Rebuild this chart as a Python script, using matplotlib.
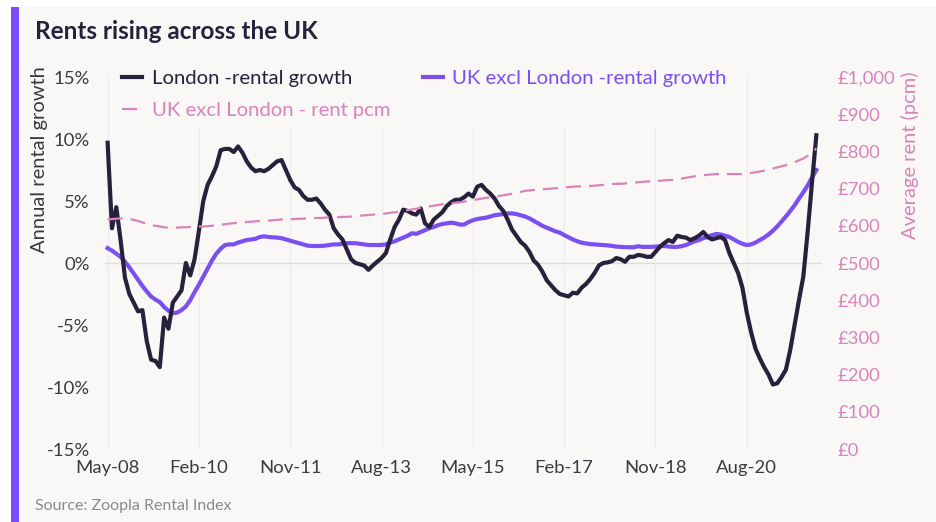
import matplotlib
matplotlib.use("Agg")
import matplotlib.pyplot as plt
from matplotlib.patches import Rectangle
import pandas as pd

# ---------------- data ----------------
start_month = "2008-05"
tick_every = 21

london_growth = [
    9.7, 2.8, 4.5, 1.8, -1.2, -2.5, -3.2, -3.9, -3.8, -6.3, -7.8, -7.9,
    -8.4, -4.4, -5.3, -3.2, -2.7, -2.2, 0.0, -1.0, 0.3, 2.6, 5.0, 6.3,
    7.0, 7.8, 9.1, 9.2, 9.2, 8.95, 9.4, 8.9, 8.2, 7.7, 7.4, 7.5,
    7.4, 7.6, 7.9, 8.2, 8.3, 7.5, 6.7, 6.1, 5.9, 5.4, 5.1, 5.1,
    5.2, 4.8, 4.3, 3.9, 2.8, 2.3, 1.9, 1.1, 0.3, 0.0, -0.1, -0.2,
    -0.55, -0.2, 0.1, 0.4, 0.8, 1.9, 2.9, 3.5, 4.3, 4.2, 4.0, 3.9,
    4.4, 3.2, 2.9, 3.5, 3.8, 4.1, 4.6, 4.9, 5.1, 5.1, 5.3, 5.6,
    5.35, 6.15, 6.3, 5.9, 5.6, 5.2, 4.6, 4.2, 3.5, 2.7, 2.2, 1.7,
    1.4, 0.9, 0.2, -0.15, -0.7, -1.4, -1.8, -2.2, -2.5, -2.6, -2.7, -2.4,
    -2.45, -2.0, -1.7, -1.3, -0.8, -0.2, 0.0, 0.05, 0.15, 0.4, 0.3, 0.1,
    0.5, 0.5, 0.65, 0.6, 0.5, 0.5, 0.9, 1.3, 1.6, 1.85, 1.7, 2.2,
    2.1, 2.05, 1.85, 2.0, 2.2, 2.5, 2.1, 1.9, 2.0, 2.1, 1.85, 0.8,
    0.0, -0.8, -2.0, -4.0, -5.6, -6.9, -7.7, -8.4, -9.0, -9.8, -9.7, -9.2,
    -8.6, -7.0, -5.0, -3.0, -1.1, 2.5, 6.5, 10.3,
]

uk_excl_london_growth = [
    1.2, 1.0, 0.75, 0.5, 0.1, -0.35, -0.85, -1.35, -1.85, -2.3, -2.7, -2.95,
    -3.15, -3.55, -3.85, -4.05, -4.0, -3.8, -3.5, -3.0, -2.35, -1.75, -1.1, -0.45,
    0.2, 0.75, 1.15, 1.45, 1.5, 1.5, 1.65, 1.75, 1.85, 1.9, 1.95, 2.1,
    2.15, 2.1, 2.07, 2.05, 2.0, 1.9, 1.8, 1.7, 1.6, 1.5, 1.4, 1.37,
    1.37, 1.37, 1.4, 1.45, 1.5, 1.5, 1.55, 1.6, 1.6, 1.6, 1.55, 1.5,
    1.45, 1.45, 1.45, 1.45, 1.5, 1.65, 1.75, 1.9, 2.05, 2.2, 2.4, 2.35,
    2.5, 2.65, 2.8, 2.9, 3.05, 3.15, 3.2, 3.25, 3.2, 3.1, 3.1, 3.3,
    3.45, 3.55, 3.6, 3.65, 3.75, 3.85, 3.9, 3.95, 4.0, 4.0, 3.95, 3.85,
    3.75, 3.6, 3.4, 3.2, 3.0, 2.85, 2.7, 2.55, 2.45, 2.25, 2.07, 1.9,
    1.75, 1.64, 1.58, 1.52, 1.5, 1.47, 1.45, 1.42, 1.38, 1.32, 1.3, 1.28,
    1.27, 1.27, 1.35, 1.3, 1.3, 1.3, 1.32, 1.35, 1.37, 1.33, 1.3, 1.3,
    1.35, 1.45, 1.6, 1.75, 1.85, 2.0, 2.1, 2.25, 2.34, 2.3, 2.2, 2.1,
    1.9, 1.7, 1.55, 1.45, 1.5, 1.65, 1.85, 2.05, 2.3, 2.6, 2.95, 3.35,
    3.75, 4.2, 4.65, 5.2, 5.7, 6.25, 6.9, 7.5,
]

uk_excl_london_rent = [
    617, 618, 619, 620, 619, 618, 616, 613, 609, 605, 602, 600,
    598, 596, 595, 595, 595, 596, 596, 597, 597, 598, 598, 599,
    600, 602, 603, 604, 606, 607, 608, 609, 610, 611, 612, 613,
    613, 614, 615, 616, 617, 617, 618, 618, 619, 619, 620, 620,
    621, 621, 622, 622, 623, 623, 624, 624, 625, 626, 627, 628,
    629, 630, 631, 632, 633, 635, 636, 638, 640, 642, 644, 646,
    648, 650, 652, 654, 656, 658, 659, 660, 662, 663, 665, 667,
    669, 671, 673, 675, 677, 678, 680, 682, 684, 686, 688, 691,
    694, 695, 696, 697, 698, 699, 700, 701, 702, 703, 704, 705,
    706, 706, 707, 707, 708, 709, 710, 711, 712, 713, 713, 714,
    715, 716, 717, 718, 719, 720, 720, 721, 722, 723, 723, 725,
    727, 729, 731, 733, 735, 736, 737, 738, 739, 739, 739, 739,
    739, 739, 739, 740, 742, 744, 746, 748, 751, 754, 757, 760,
    763, 767, 771, 776, 781, 788, 797, 808,
]

left_ticks = [-15, -10, -5, 0, 5, 10, 15]
right_ticks = [0, 100, 200, 300, 400, 500, 600, 700, 800, 900, 1000]

# ---------------- style ----------------
BG = "#f9f8f7"
DARK = "#27213c"
PURPLE = "#7b4ff0"
PINK = "#d884b8"
TXT = "#3a3a40"

plt.rcParams["font.family"] = ["Lato", "DejaVu Sans"]

dates = pd.date_range(start_month, periods=len(london_growth), freq="MS")
x = list(range(len(dates)))

fig = plt.figure(figsize=(9.37, 5.22), dpi=100)
fig.patch.set_facecolor("white")
# card background and purple accent bar
fig.patches.append(Rectangle((11 / 937, 0), 1 - 11 / 937, 1 - 7 / 522,
                             transform=fig.transFigure, facecolor=BG,
                             edgecolor="none", zorder=-2))
fig.patches.append(Rectangle((11 / 937, 0), 8 / 937, 1 - 7 / 522,
                             transform=fig.transFigure, facecolor="#7c4dff",
                             edgecolor="none", zorder=-1))

ax = fig.add_axes([105 / 937, 1 - 449 / 522, (822 - 105) / 937, (449 - 77) / 522])
ax.set_facecolor(BG)
ax2 = ax.twinx()

l1, = ax.plot(x, london_growth, color=DARK, lw=3.0, solid_joinstyle="round",
              label="London -rental growth", zorder=4)
l2, = ax.plot(x, uk_excl_london_growth, color=PURPLE, lw=3.0,
              label="UK excl London -rental growth", zorder=3)
l3, = ax2.plot(x, uk_excl_london_rent, color=PINK, lw=1.6, dashes=(6.8, 3.6),
               label="UK excl London - rent pcm")

ax.set_xlim(-0.6, 164.3)
ax.set_ylim(-15, 15)
ax2.set_ylim(0, 1000)

tick_pos = x[::tick_every]
ax.set_xticks(tick_pos)
ax.set_xticklabels([dates[i].strftime("%b-%y") for i in tick_pos])
ax.set_yticks(left_ticks)
ax.set_yticklabels([f"{v}%" for v in left_ticks])
ax2.set_yticks(right_ticks)
ax2.set_yticklabels([f"£{v:,}" for v in right_ticks])

ax.grid(axis="x", color="#ebebeb", lw=0.8)
ax.grid(axis="y", visible=False)
ax.axhline(0, color="#dcdcdc", lw=1.0, zorder=1)

for a in (ax, ax2):
    for s in a.spines.values():
        s.set_visible(False)
ax.tick_params(axis="both", length=0, labelsize=13.3, colors=TXT)
ax.tick_params(axis="y", pad=11)
ax.tick_params(axis="x", pad=8)
ax2.tick_params(axis="y", length=0, labelsize=13.3, colors=PINK, pad=11)

leg = ax.legend(handles=[l1, l3, l2], ncol=2, loc="upper left",
                bbox_to_anchor=(0.007, 1.052), frameon=True, facecolor=BG,
                edgecolor="none", framealpha=1.0, fontsize=14.6,
                handlelength=1.0, handletextpad=0.45, columnspacing=1.6,
                labelspacing=0.75, borderaxespad=0.2)
leg.set_zorder(10)
for t, c in zip(leg.get_texts(), [DARK, PINK, PURPLE]):
    t.set_color(c)

fig.text(35 / 937, 1 - 31 / 522, "Rents rising across the UK", fontsize=17.5,
         fontweight="bold", color=DARK, ha="left", va="center")
fig.text(40 / 937, 1 - 160 / 522, "Annual rental growth", rotation=90,
         fontsize=14.5, color=TXT, ha="center", va="center")
fig.text(910 / 937, 1 - 155 / 522, "Average rent (pcm)", rotation=90,
         fontsize=14.5, color=PINK, ha="center", va="center")
fig.text(35 / 937, 1 - 506 / 522, "Source: Zoopla Rental Index", fontsize=11.5,
         color="#8a8a8a", ha="left", va="center")

fig.savefig("out.png", dpi=100, facecolor=fig.get_facecolor())
